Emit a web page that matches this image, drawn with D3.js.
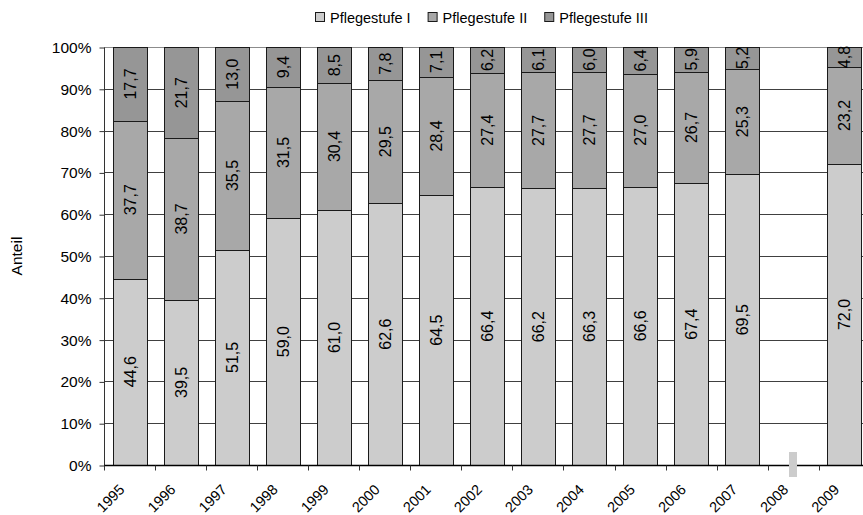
<!DOCTYPE html>
<html>
<head>
<meta charset="utf-8">
<script src="https://cdn.jsdelivr.net/npm/d3@7"></script>
<style>
  body { margin: 0; background: #fff; }
  text { font-family: "Liberation Sans", Arial, sans-serif; }
</style>
</head>
<body>
<script>
width = 863;
height = 515;

const years = ['1995', '1996', '1997', '1998', '1999', '2000', '2001', '2002', '2003', '2004', '2005', '2006', '2007', '2008', '2009'];
const stufeI = [44.6, 39.5, 51.5, 59.0, 61.0, 62.6, 64.5, 66.4, 66.2, 66.3, 66.6, 67.4, 69.5, null, 72.0];
const stufeII = [37.7, 38.7, 35.5, 31.5, 30.4, 29.5, 28.4, 27.4, 27.7, 27.7, 27.0, 26.7, 25.3, null, 23.2];
const stufeIII = [17.7, 21.7, 13.0, 9.4, 8.5, 7.8, 7.1, 6.2, 6.1, 6.0, 6.4, 5.9, 5.2, null, 4.8];
const seriesNames = ['Pflegestufe I', 'Pflegestufe II', 'Pflegestufe III'];
const yTicks = [0, 10, 20, 30, 40, 50, 60, 70, 80, 90, 100];

function main() {
  const svg = d3.select('body').append('svg').attr('width', width).attr('height', height);
  const colors = ['#cccccc', '#a8a8a8', '#969696'];

  const margin = { left: 104, top: 47 };
  const x = d3.scaleBand().domain(years).range([margin.left, margin.left + 15 * 51.05]).paddingInner(1 / 3).paddingOuter(1 / 6);
  const y = d3.scaleLinear().domain([0, 100]).range([465, margin.top]);

  const rows = years.map((yr, i) => ({ year: yr, s0: stufeI[i], s1: stufeII[i], s2: stufeIII[i] }))
    .filter(d => d.s0 != null);
  const layers = d3.stack().keys(['s0', 's1', 's2'])(rows);

  // gridlines
  svg.append('g')
    .selectAll('line')
    .data(yTicks.slice(1))
    .enter()
    .append('line')
    .attr('x1', margin.left)
    .attr('x2', width)
    .attr('y1', d => Math.round(y(d)) + 0.5)
    .attr('y2', d => Math.round(y(d)) + 0.5)
    .attr('stroke', d => d === 100 ? '#8c8c8c' : '#404040')
    .attr('stroke-width', 1);

  // bars
  layers.forEach((layer, li) => {
    const g = svg.append('g');
    g.selectAll('rect')
      .data(layer)
      .enter()
      .append('rect')
      .attr('x', d => Math.round(x(d.data.year)) + 0.5)
      .attr('y', d => Math.round(y(d[1])) + 0.5)
      .attr('width', Math.round(x.bandwidth()))
      .attr('height', d => Math.round(y(d[0])) - Math.round(y(d[1])))
      .attr('fill', colors[li])
      .attr('stroke', '#1a1a1a')
      .attr('stroke-width', 1);

    g.selectAll('text')
      .data(layer)
      .enter()
      .append('text')
      .attr('transform', d => {
        const cx = x(d.data.year) + x.bandwidth() / 2;
        const cy = (y(d[0]) + y(d[1])) / 2;
        return `translate(${cx + 6},${cy}) rotate(-90)`;
      })
      .attr('text-anchor', 'middle')
      .attr('font-size', 16)
      .attr('fill', '#000')
      .text(d => (d[1] - d[0]).toFixed(1).replace('.', ','));
  });

  // y axis
  const yAxis = d3.axisLeft(y).tickValues(yTicks).tickSize(5).tickFormat(d => d + '%');
  const ya = svg.append('g').attr('transform', `translate(${margin.left + 0.5},0.5)`).call(yAxis);
  ya.select('.domain').attr('stroke', '#333').attr('d', `M0,${y(100)}V${y(0)}`);
  ya.selectAll('.tick line').attr('stroke', '#333');
  ya.selectAll('.tick text')
    .attr('font-size', 15.5)
    .attr('font-family', '"Liberation Sans", Arial, sans-serif')
    .attr('fill', '#000')
    .attr('x', -13);

  // x axis
  const xa = svg.append('g').attr('transform', `translate(0,${Math.round(y(0)) + 0.5})`);
  xa.append('line').attr('x1', margin.left).attr('x2', width).attr('stroke', '#000').attr('stroke-width', 1.5);
  xa.selectAll('line.tk')
    .data(years)
    .enter()
    .append('line')
    .attr('class', 'tk')
    .attr('x1', d => Math.round(x(d) - x.step() * x.paddingInner() / 2) + 0.5)
    .attr('x2', d => Math.round(x(d) - x.step() * x.paddingInner() / 2) + 0.5)
    .attr('y1', 0)
    .attr('y2', 5)
    .attr('stroke', '#333');
  xa.selectAll('text')
    .data(years)
    .enter()
    .append('text')
    .attr('transform', d => `translate(${x(d) + x.bandwidth() / 2 - 4},${25}) rotate(-45)`)
    .attr('text-anchor', 'end')
    .attr('font-size', 14.5)
    .text(d => d);

  // stray marker near 2008
  svg.append('rect').attr('x', 789).attr('y', 452).attr('width', 8).attr('height', 25).attr('fill', '#cccccc');

  // y title
  svg.append('text')
    .attr('transform', `translate(22,${(y(0) + y(100)) / 2}) rotate(-90)`)
    .attr('text-anchor', 'middle')
    .attr('font-size', 15.5)
    .text('Anteil');

  // legend
  const legend = svg.append('g').attr('transform', 'translate(315,12)');
  let lx = 0;
  seriesNames.forEach((name, i) => {
    legend.append('rect').attr('x', lx + 0.5).attr('y', 0.5).attr('width', 9).attr('height', 9)
      .attr('fill', colors[i]).attr('stroke', '#1a1a1a');
    const t = legend.append('text').attr('x', lx + 15).attr('y', 11).attr('font-size', 14.5).text(name);
    lx += 15 + t.node().getComputedTextLength() + 17;
  });
}

main();
</script>
</body>
</html>
